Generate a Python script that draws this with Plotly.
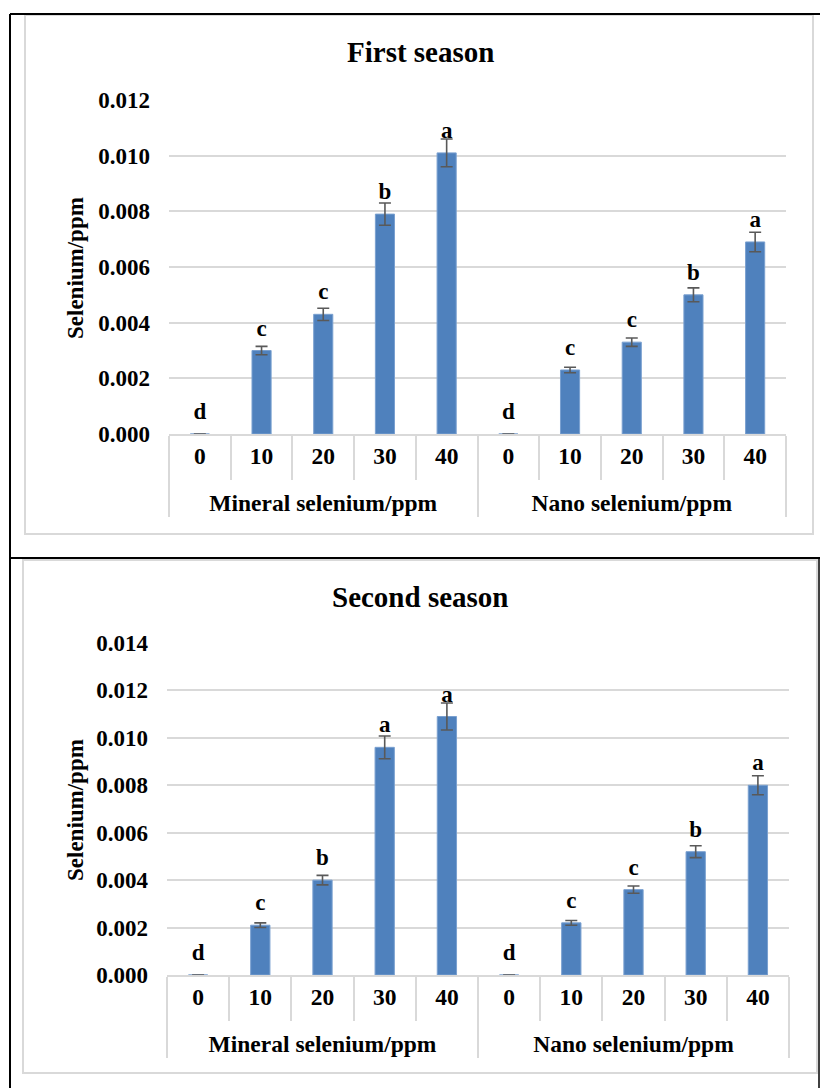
import plotly.graph_objects as go

# ---------------- data ----------------
doses = ["0", "10", "20", "30", "40"]
groups = ["Mineral selenium/ppm", "Nano selenium/ppm"]

s1_mineral = [0.0, 0.0030, 0.0043, 0.0079, 0.0101]
s1_mineral_err = [0.0, 0.00015, 0.00022, 0.0004, 0.0005]
s1_nano = [0.0, 0.0023, 0.0033, 0.0050, 0.0069]
s1_nano_err = [0.0, 0.0001, 0.00015, 0.00025, 0.00035]
s1_letters = ["d", "c", "c", "b", "a", "d", "c", "c", "b", "a"]

s2_mineral = [0.0, 0.0021, 0.0040, 0.0096, 0.0109]
s2_mineral_err = [0.0, 0.0001, 0.0002, 0.00048, 0.00057]
s2_nano = [0.0, 0.0022, 0.0036, 0.0052, 0.0080]
s2_nano_err = [0.0, 0.0001, 0.00015, 0.00025, 0.0004]
s2_letters = ["d", "c", "b", "a", "a", "d", "c", "c", "b", "a"]

titles = ["First season", "Second season"]
y_title = "Selenium/ppm"

# ---------------- figure ----------------
W, H = 820, 1088
FONT = "Liberation Serif"
BAR = "#4f81bd"
GRID = "#d9d9d9"
LBL = "<span style='font-size:23.5px'>%s</span>"

# group labels sit one (short) line below the dose labels, as in the original
x_multi = [
    ["<br>" + LBL % g for g in groups for _ in doses],
    [LBL % d for d in doses] * 2,
]
n_cats = len(groups) * len(doses)

fig = go.Figure()

panels = [
    (s1_mineral + s1_nano, s1_mineral_err + s1_nano_err, s1_letters, "x", "y"),
    (s2_mineral + s2_nano, s2_mineral_err + s2_nano_err, s2_letters, "x2", "y2"),
]
for vals, errs, letters, xa, ya in panels:
    fig.add_trace(go.Bar(
        x=x_multi, y=vals, xaxis=xa, yaxis=ya,
        marker=dict(color=BAR, line=dict(color="#7aa0d0", width=1)),
        error_y=dict(type="data", array=errs, visible=True,
                     color="#595959", thickness=1.6, width=6),
        showlegend=False, hoverinfo="skip",
    ))
    # significance letters sit a fixed distance above each bar top
    fig.add_trace(go.Scatter(
        x=x_multi, y=vals, xaxis=xa, yaxis=ya,
        mode="markers+text", text=letters, textposition="top center",
        marker=dict(size=13, opacity=0, color=BAR),
        textfont=dict(family=FONT, size=23, color="black", weight="bold"),
        showlegend=False, hoverinfo="skip",
    ))


def px(x):
    return x / W


def py(y):
    return 1 - y / H


common_x = dict(
    type="multicategory", range=[-0.5, n_cats - 0.5],
    showgrid=False, showline=True, linecolor=GRID, linewidth=1.5,
    ticks="outside", tickson="boundaries", ticklen=44, tickcolor=GRID, tickwidth=1.5,
    showdividers=True, dividercolor=GRID, dividerwidth=1.5,
    tickfont=dict(family=FONT, size=19, color="black", weight="bold"),
    ticklabelstandoff=5, fixedrange=True, automargin=False,
)
common_y = dict(
    showgrid=True, gridcolor=GRID, gridwidth=1.5, zeroline=False, showline=False,
    tickformat=".3f", tickfont=dict(family=FONT, size=23, color="black", weight="bold"),
    ticks="", ticklabelstandoff=18, fixedrange=True, automargin=False,
)

fig.update_layout(
    width=W, height=H, margin=dict(l=0, r=0, t=0, b=0, autoexpand=False),
    paper_bgcolor="white", plot_bgcolor="white",
    bargap=0.69,
    xaxis=dict(domain=[px(169), px(786)], anchor="y", **common_x),
    yaxis=dict(domain=[py(434), py(100)], anchor="x", range=[0, 0.012], dtick=0.002, **common_y),
    xaxis2=dict(domain=[px(167), px(789)], anchor="y2", **common_x),
    yaxis2=dict(domain=[py(975), py(643)], anchor="x2", range=[0, 0.014], dtick=0.002, **common_y),
)

# titles and y-axis titles
for t, ty, yy in [(titles[0], 52, 268), (titles[1], 597, 810)]:
    fig.add_annotation(text="<b>%s</b>" % t, x=px(420), y=py(ty), xref="paper", yref="paper",
                       showarrow=False, font=dict(family=FONT, size=29, color="black"),
                       xanchor="center", yanchor="middle")
    fig.add_annotation(text="<b>%s</b>" % y_title, x=px(75), y=py(yy), xref="paper", yref="paper",
                       showarrow=False, textangle=-90, font=dict(family=FONT, size=23, color="black"),
                       xanchor="center", yanchor="middle")

# chart frames and page borders
shapes = [
    dict(type="rect", x0=px(25), x1=px(813), y0=py(534), y1=py(15), line=dict(color=GRID, width=2)),
    dict(type="rect", x0=px(23), x1=px(817), y0=py(1073), y1=py(560), line=dict(color=GRID, width=2)),
    dict(type="line", x0=px(10), x1=1, y0=py(14), y1=py(14), line=dict(color="black", width=2)),
    dict(type="line", x0=px(10), x1=1, y0=py(558), y1=py(558), line=dict(color="black", width=2)),
    dict(type="line", x0=px(10), x1=px(10), y0=py(14), y1=0, line=dict(color="black", width=2)),
    dict(type="line", x0=px(819), x1=px(819), y0=py(558), y1=0, line=dict(color="black", width=1.5)),
]
for s in shapes:
    s.update(xref="paper", yref="paper")
    fig.add_shape(**s)

fig.write_html("out.html", config={"displayModeBar": False},
               post_script="document.body.style.margin='0';document.body.style.overflow='hidden';")
